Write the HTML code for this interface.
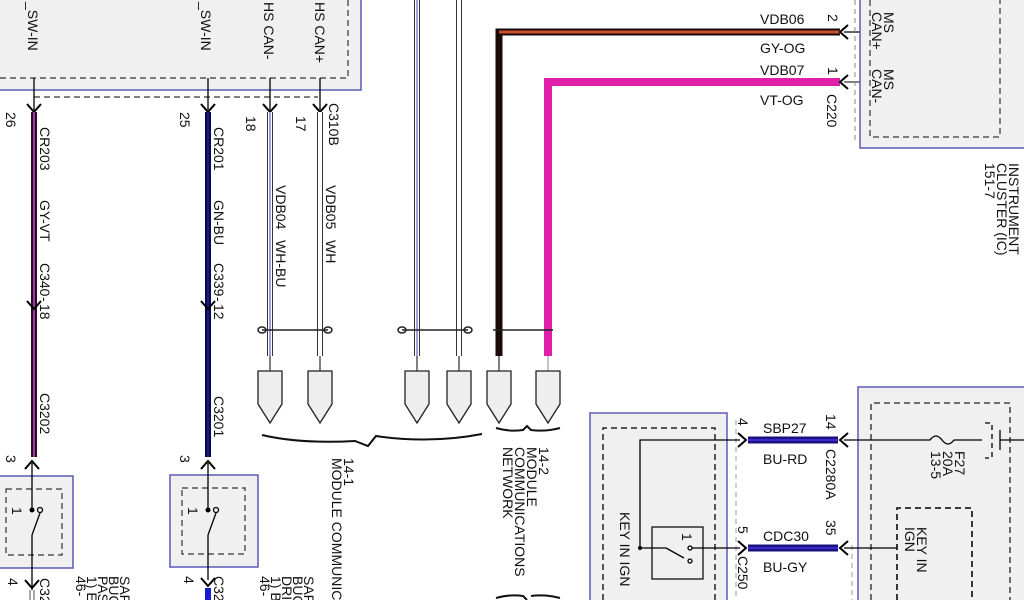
<!DOCTYPE html>
<html><head><meta charset="utf-8"><style>
html,body{margin:0;padding:0;background:#fff;}
svg{display:block;}
text{font-family:"Liberation Sans",sans-serif;font-size:14px;fill:#111;}
</style></head><body>
<svg width="1024" height="600" viewBox="0 0 1024 600" xmlns="http://www.w3.org/2000/svg">
<defs>
<g id="arrD"><path d="M-7,-6 L0,2 L7,-6" fill="none" stroke="#000" stroke-width="2"/></g>
<g id="arrU"><path d="M-7,6 L0,-2 L7,6" fill="none" stroke="#000" stroke-width="2"/></g>
<g id="arrL"><path d="M6,-7 L-2,0 L6,7" fill="none" stroke="#000" stroke-width="2"/></g>
<g id="arrR"><path d="M-6,-7 L2,0 L-6,7" fill="none" stroke="#000" stroke-width="2"/></g>
<g id="conn"><path d="M-12,0 L12,0 L12,33 L0,52 L-12,33 Z" fill="#eeeeee" stroke="#222" stroke-width="1.3"/></g>
</defs>

<rect x="-2" y="-2" width="363" height="92" fill="#f0f0f0" stroke="#5a5ab8" stroke-width="1.5"/>
<path d="M0,78 L348,78 L348,0" fill="none" stroke="#333" stroke-width="1.2" stroke-dasharray="6,4"/>
<path d="M34,97 L318,97" fill="none" stroke="#333" stroke-width="1.2" stroke-dasharray="6,4"/>
<text transform="translate(28,2) rotate(90)">_SW-IN</text>
<text transform="translate(201,2) rotate(90)">_SW-IN</text>
<text transform="translate(264,2) rotate(90)">HS CAN-</text>
<text transform="translate(315,2) rotate(90)">HS CAN+</text>

<g stroke="#000" stroke-width="1.3">
<line x1="34" y1="78" x2="34" y2="110"/>
<line x1="208" y1="78" x2="208" y2="110"/>
<line x1="270" y1="78" x2="270" y2="110"/>
<line x1="320" y1="78" x2="320" y2="110"/>
</g>
<use href="#arrD" x="34" y="110"/><use href="#arrD" x="208" y="110"/>
<use href="#arrD" x="270" y="110"/><use href="#arrD" x="320" y="110"/>

<line x1="34" y1="112" x2="34" y2="457" stroke="#2a0a2a" stroke-width="6"/>
<line x1="34" y1="112" x2="34" y2="457" stroke="#9a3a9a" stroke-width="2"/>
<use href="#arrD" x="34" y="307"/>
<line x1="208" y1="112" x2="208" y2="457" stroke="#0a0a40" stroke-width="6"/>
<line x1="208" y1="112" x2="208" y2="457" stroke="#1a1a90" stroke-width="2"/>
<use href="#arrD" x="208" y="307"/>
<line x1="270" y1="112" x2="270" y2="356" stroke="#333" stroke-width="6"/>
<line x1="270" y1="112" x2="270" y2="356" stroke="#fff" stroke-width="4"/>
<line x1="270" y1="112" x2="270" y2="356" stroke="#6a6ad8" stroke-width="1.3"/>
<line x1="270" y1="356" x2="270" y2="371" stroke="#000"/>
<line x1="320" y1="112" x2="320" y2="356" stroke="#333" stroke-width="6"/>
<line x1="320" y1="112" x2="320" y2="356" stroke="#fff" stroke-width="4"/>
<line x1="320" y1="356" x2="320" y2="371" stroke="#000"/>
<line x1="417" y1="0" x2="417" y2="356" stroke="#333" stroke-width="6"/>
<line x1="417" y1="0" x2="417" y2="356" stroke="#fff" stroke-width="4"/>
<line x1="417" y1="0" x2="417" y2="356" stroke="#6a6ad8" stroke-width="1.3"/>
<line x1="417" y1="356" x2="417" y2="371" stroke="#000"/>
<line x1="459" y1="0" x2="459" y2="356" stroke="#333" stroke-width="6"/>
<line x1="459" y1="0" x2="459" y2="356" stroke="#fff" stroke-width="4"/>
<line x1="459" y1="356" x2="459" y2="371" stroke="#000"/>
<path d="M840,32 L499,32 L499,356" fill="none" stroke="#1a0a0a" stroke-width="7"/>
<path d="M840,32 L499,32" fill="none" stroke="#c8502a" stroke-width="3"/>
<line x1="499" y1="356" x2="499" y2="371" stroke="#000"/>
<path d="M840,82 L548,82 L548,356" fill="none" stroke="#e020a8" stroke-width="8"/>
<line x1="548" y1="356" x2="548" y2="371" stroke="#888"/>
<use href="#arrL" x="842" y="32"/><use href="#arrL" x="842" y="82"/>
<line x1="844" y1="32" x2="870" y2="32" stroke="#000" stroke-width="1.3"/>
<line x1="844" y1="82" x2="870" y2="82" stroke="#000" stroke-width="1"/>

<g fill="none" stroke="#222" stroke-width="1.5">
<path d="M262,330 L328,330"/><ellipse cx="262" cy="330" rx="4" ry="3"/><ellipse cx="328" cy="330" rx="4" ry="3"/>
<path d="M402,330 L468,330"/><ellipse cx="402" cy="330" rx="4" ry="3"/><ellipse cx="468" cy="330" rx="4" ry="3"/>
<path d="M493,330 L553,330"/>
</g>
<use href="#conn" x="270" y="371"/><use href="#conn" x="320" y="371"/>
<use href="#conn" x="417" y="371"/><use href="#conn" x="459" y="371"/>
<use href="#conn" x="499" y="371"/><use href="#conn" x="548" y="371"/>
<path d="M262,435 Q300,444 355,441 L368,446 L376,436 Q430,444 482,434" fill="none" stroke="#111" stroke-width="2"/>
<path d="M496,428 Q510,432 523,430 L527,426 L531,430 Q545,432 560,428" fill="none" stroke="#111" stroke-width="2"/>
<path d="M496,598 Q510,594 523,596 L527,600 M531,596 Q545,594 560,598" fill="none" stroke="#111" stroke-width="2"/>

<text transform="translate(344,458) rotate(90)">14-1</text>
<text transform="translate(332,458) rotate(90)">MODULE COMMUNIC</text>
<text transform="translate(539,447) rotate(90)">14-2</text>
<text transform="translate(527,447) rotate(90)">MODULE</text>
<text transform="translate(515,447) rotate(90)">COMMUNICATIONS</text>
<text transform="translate(503,447) rotate(90)">NETWORK</text>

<text transform="translate(6,112) rotate(90)">26</text>
<text transform="translate(40,127) rotate(90)">CR203</text>
<text transform="translate(40,200) rotate(90)">GY-VT</text>
<text transform="translate(40,263) rotate(90)">C340</text>
<text transform="translate(40,297) rotate(90)">-</text>
<text transform="translate(40,304) rotate(90)">18</text>
<text transform="translate(40,393) rotate(90)">C3202</text>
<text transform="translate(6,455) rotate(90)">3</text>

<text transform="translate(180,112) rotate(90)">25</text>
<text transform="translate(214,127) rotate(90)">CR201</text>
<text transform="translate(214,200) rotate(90)">GN-BU</text>
<text transform="translate(214,263) rotate(90)">C339</text>
<text transform="translate(214,297) rotate(90)">-</text>
<text transform="translate(214,304) rotate(90)">12</text>
<text transform="translate(214,396) rotate(90)">C3201</text>
<text transform="translate(180,455) rotate(90)">3</text>

<text transform="translate(246,116) rotate(90)">18</text>
<text transform="translate(296,116) rotate(90)">17</text>
<text transform="translate(329,103) rotate(90)">C310B</text>
<text transform="translate(276,185) rotate(90)">VDB04</text>
<text transform="translate(276,240) rotate(90)">WH-BU</text>
<text transform="translate(326,185) rotate(90)">VDB05</text>
<text transform="translate(326,240) rotate(90)">WH</text>

<rect x="-2" y="476" width="75" height="92" fill="#f0f0f0" stroke="#5a5ab8" stroke-width="1.5"/>
<rect x="6" y="489" width="56" height="66" fill="none" stroke="#333" stroke-width="1.2" stroke-dasharray="6,4"/>
<rect x="170" y="475" width="88" height="92" fill="#f0f0f0" stroke="#5a5ab8" stroke-width="1.5"/>
<rect x="182" y="488" width="63" height="66" fill="none" stroke="#333" stroke-width="1.2" stroke-dasharray="6,4"/>
<g stroke="#000" stroke-width="1.3" fill="none">
<line x1="32" y1="463" x2="32" y2="510"/><line x1="32" y1="535" x2="32" y2="590"/>
<line x1="32" y1="535" x2="40" y2="513"/><circle cx="40" cy="510" r="2.5"/>
<line x1="208" y1="463" x2="208" y2="510"/><line x1="208" y1="535" x2="208" y2="580"/>
<line x1="208" y1="535" x2="216" y2="513"/><circle cx="216" cy="510" r="2.5"/>
</g>
<circle cx="32" cy="510" r="2.5" fill="#000"/><circle cx="208" cy="510" r="2.5" fill="#000"/>
<use href="#arrU" x="32" y="463"/><use href="#arrU" x="208" y="463"/>
<use href="#arrD" x="32" y="586"/><use href="#arrD" x="208" y="584"/>
<line x1="208" y1="588" x2="208" y2="600" stroke="#1a1ad0" stroke-width="6"/>
<line x1="30" y1="590" x2="30" y2="600" stroke="#555" stroke-width="1"/><line x1="34" y1="590" x2="34" y2="600" stroke="#555" stroke-width="1"/>
<text transform="translate(12,507) rotate(90)" font-size="12">1</text>
<text transform="translate(188,507) rotate(90)" font-size="12">1</text>
<text transform="translate(8,578) rotate(90)">4</text>
<text transform="translate(184,576) rotate(90)">4</text>
<text transform="translate(40,578) rotate(90)">C32</text>
<text transform="translate(214,576) rotate(90)">C32</text>
<g font-size="12">
<text transform="translate(120,576) rotate(90)">SAF</text>
<text transform="translate(109,576) rotate(90)">BUC</text>
<text transform="translate(98,576) rotate(90)">PAS</text>
<text transform="translate(87,576) rotate(90)">1) E</text>
<text transform="translate(76,576) rotate(90)">46-</text>
<text transform="translate(304,576) rotate(90)">SAF</text>
<text transform="translate(293,576) rotate(90)">BUC</text>
<text transform="translate(282,576) rotate(90)">DRI</text>
<text transform="translate(271,576) rotate(90)">1) B</text>
<text transform="translate(260,576) rotate(90)">46-</text>
</g>

<rect x="860" y="-2" width="166" height="150" fill="#f0f0f0" stroke="#5a5ab8" stroke-width="1.5"/>
<path d="M855,0 L855,140" stroke="#888" stroke-dasharray="5,4" fill="none"/>
<path d="M870,0 L870,137 L1000,137 L1000,0" fill="none" stroke="#333" stroke-width="1.2" stroke-dasharray="6,4"/>
<text transform="translate(884,12) rotate(90)">MS</text>
<text transform="translate(872,12) rotate(90)">CAN+</text>
<text transform="translate(884,69) rotate(90)">MS</text>
<text transform="translate(872,69) rotate(90)">CAN-</text>
<text transform="translate(1009,163) rotate(90)">INSTRUMENT</text>
<text transform="translate(997,163) rotate(90)">CLUSTER (IC)</text>
<text transform="translate(985,163) rotate(90)">151-7</text>
<text x="760" y="24">VDB06</text>
<text x="760" y="53">GY-OG</text>
<text x="760" y="75">VDB07</text>
<text x="760" y="105">VT-OG</text>
<text transform="translate(828,14) rotate(90)">2</text>
<text transform="translate(828,67) rotate(90)">1</text>
<text transform="translate(827,94) rotate(90)">C220</text>

<rect x="590" y="413" width="137" height="190" fill="#f0f0f0" stroke="#5a5ab8" stroke-width="1.5"/>
<path d="M603,600 L603,428 L715,428 L715,600" fill="none" stroke="#222" stroke-width="1.5" stroke-dasharray="6,4"/>
<path d="M736,420 L736,600" stroke="#999" stroke-dasharray="5,4" fill="none"/>
<text transform="translate(620,512) rotate(90)">KEY IN IGN</text>
<rect x="652" y="527" width="51" height="52" fill="none" stroke="#111" stroke-width="1.3"/>
<g stroke="#000" stroke-width="1.3" fill="none">
<path d="M740,440 L640,440 L640,548 L666,548"/>
<line x1="666" y1="548" x2="684" y2="558"/>
<line x1="692" y1="548" x2="740" y2="548"/>
<circle cx="690" cy="548" r="2"/><circle cx="690" cy="561" r="2"/>
</g>
<circle cx="640" cy="548" r="2" fill="#000"/>
<text transform="translate(682,533) rotate(90)" font-size="12">1</text>
<use href="#arrR" x="744" y="440"/><use href="#arrR" x="744" y="548"/>
<line x1="748" y1="440" x2="838" y2="440" stroke="#18127a" stroke-width="7"/>
<line x1="748" y1="440" x2="838" y2="440" stroke="#3a2ad0" stroke-width="2"/>
<line x1="748" y1="548" x2="838" y2="548" stroke="#18127a" stroke-width="7"/>
<line x1="748" y1="548" x2="838" y2="548" stroke="#3a2ad0" stroke-width="2"/>
<use href="#arrL" x="842" y="440"/><use href="#arrL" x="842" y="548"/>
<text x="763" y="433">SBP27</text>
<text x="763" y="464">BU-RD</text>
<text x="763" y="541">CDC30</text>
<text x="763" y="572">BU-GY</text>
<text transform="translate(738,418) rotate(90)">4</text>
<text transform="translate(738,526) rotate(90)">5</text>
<text transform="translate(738,556) rotate(90)">C250</text>
<text transform="translate(826,414) rotate(90)">14</text>
<text transform="translate(826,520) rotate(90)">35</text>
<text transform="translate(826,449) rotate(90)">C2280A</text>

<rect x="858" y="387" width="168" height="216" fill="#f0f0f0" stroke="#5a5ab8" stroke-width="1.5"/>
<path d="M852,545 L852,600" stroke="#999" stroke-dasharray="5,4" fill="none"/>
<path d="M871,600 L871,403 L1010,403 L1010,600" fill="none" stroke="#222" stroke-width="1.3" stroke-dasharray="6,4"/>
<path d="M897,600 L897,508 L972,508 L972,600" fill="none" stroke="#222" stroke-width="1.8" stroke-dasharray="6,4"/>
<text transform="translate(917,527) rotate(90)">KEY IN</text>
<text transform="translate(905,527) rotate(90)">IGN</text>
<g stroke="#000" stroke-width="1.3" fill="none">
<path d="M844,440 L930,440 Q936,432 942,440 Q948,448 954,440 L982,440"/>
<line x1="844" y1="548" x2="897" y2="548"/>
<path d="M985,423 L992,423 L992,458 L985,458" stroke-dasharray="5,4"/>
<line x1="1000" y1="430" x2="1000" y2="450"/>
<line x1="1000" y1="440" x2="1024" y2="440"/>
</g>
<text transform="translate(955,451) rotate(90)">F27</text>
<text transform="translate(943,451) rotate(90)">20A</text>
<text transform="translate(931,451) rotate(90)">13-5</text>
</svg>
</body></html>
